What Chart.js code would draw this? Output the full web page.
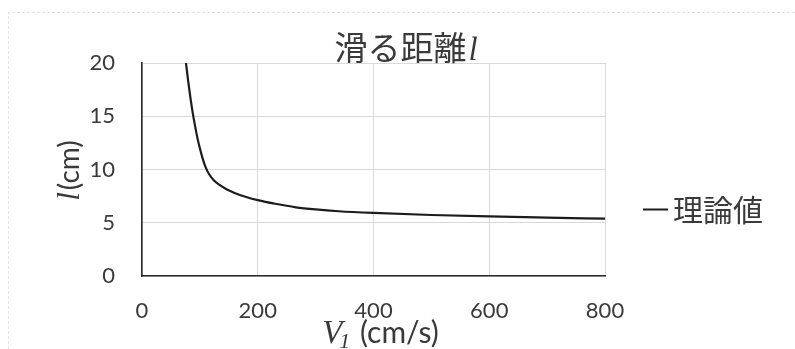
<!DOCTYPE html>
<html><head><meta charset="utf-8">
<script src="https://cdn.jsdelivr.net/npm/chart.js@4.4.0/dist/chart.umd.min.js"></script>
<style>html,body{margin:0;padding:0;background:#fff;} canvas{display:block;}</style>
</head><body>
<canvas id="c" width="795" height="349"></canvas>
<script>
// ---- data ----
const chartTitle = "滑る距離";
const chartTitleVar = "l";
const seriesLabel = "理論値";
const xTitleVar = "V";
const xTitleSub = "1";
const xTitleUnit = " (cm/s)";
const yTitleVar = "l";
const yTitleUnit = "(cm)";
const xTickValues = [0, 200, 400, 600, 800];
const yTickValues = [0, 5, 10, 15, 20];
const velocity = [76, 80, 84, 88, 92, 96, 100, 105, 110, 116, 124, 134, 146, 160, 180, 200, 230, 266, 300, 340, 400, 500, 600, 700, 800];
const distance = [20, 18.2, 16.6, 15.2, 14.0, 12.9, 12.0, 11.0, 10.2, 9.55, 9.0, 8.55, 8.15, 7.8, 7.42, 7.12, 6.78, 6.45, 6.25, 6.08, 5.92, 5.73, 5.59, 5.48, 5.38];

const points = velocity.map((v, i) => ({ x: v, y: distance[i] }));

const TEXT = '#3a3a3a';
const LATIN = 'Lato, "Noto Sans", sans-serif';
const CJK = '"Noto Sans CJK JP", "Noto Sans", sans-serif';
const SERIF = '"Liberation Serif", "DejaVu Serif", serif';

const framePlugin = {
  id: 'framePlugin',
  beforeDraw(chart) {
    const ctx = chart.ctx;
    ctx.save();
    ctx.strokeStyle = '#e4e4e4';
    ctx.lineWidth = 1;
    ctx.setLineDash([3, 2]);
    ctx.beginPath();
    ctx.moveTo(8.5, chart.height);
    ctx.lineTo(8.5, 12.5);
    ctx.lineTo(chart.width, 12.5);
    ctx.stroke();
    ctx.restore();
  }
};

const textPlugin = {
  id: 'textPlugin',
  afterDraw(chart) {
    const ctx = chart.ctx;
    const ca = chart.chartArea;
    ctx.save();
    ctx.fillStyle = TEXT;
    ctx.textAlign = 'left';
    ctx.textBaseline = 'alphabetic';

    // chart title: 滑る距離 + italic l
    const tFont = '33px ' + CJK;
    const tVarFont = 'italic 33px ' + SERIF;
    ctx.font = tFont; const tw1 = ctx.measureText(chartTitle).width;
    ctx.font = tVarFont; const tw2 = ctx.measureText(chartTitleVar).width;
    let x = 406 - (tw1 + tw2 + 2) / 2;
    ctx.font = tFont; ctx.fillText(chartTitle, x, 60);
    ctx.font = tVarFont; ctx.fillText(chartTitleVar, x + tw1 + 2, 60);

    // x-axis title: V1 (cm/s)
    const vFont = 'italic 33px ' + SERIF;
    const sFont = 'italic 22px ' + SERIF;
    const uFont = '30px ' + LATIN;
    ctx.font = vFont; const w1 = ctx.measureText(xTitleVar).width;
    ctx.font = sFont; const w2 = ctx.measureText(xTitleSub).width;
    ctx.font = uFont; const w3 = ctx.measureText(xTitleUnit).width;
    const xc = 381;
    x = xc - (w1 + w2 + w3) / 2;
    const xb = 343;
    ctx.font = vFont; ctx.fillText(xTitleVar, x, xb);
    ctx.font = sFont; ctx.fillText(xTitleSub, x + w1 - 3, xb + 5);
    ctx.font = uFont; ctx.fillText(xTitleUnit, x + w1 + w2 - 1, xb);

    // y-axis title: l(cm), rotated
    ctx.save();
    ctx.translate(69, (ca.top + ca.bottom) / 2 + 1);
    ctx.rotate(-Math.PI / 2);
    const lFont = 'italic 31px ' + SERIF;
    const cFont = '28px ' + LATIN;
    ctx.font = lFont; const a1 = ctx.measureText(yTitleVar).width;
    ctx.font = cFont; const a2 = ctx.measureText(yTitleUnit).width;
    let yx = -(a1 + a2 + 2) / 2;
    ctx.font = lFont; ctx.fillText(yTitleVar, yx, 10);
    ctx.font = cFont; ctx.fillText(yTitleUnit, yx + a1 + 2, 10);
    ctx.restore();

    // legend: line marker + series label
    const ds = chart.data.datasets[0];
    ctx.strokeStyle = ds.borderColor;
    ctx.lineWidth = 2;
    ctx.beginPath();
    ctx.moveTo(643, 209.5);
    ctx.lineTo(668, 209.5);
    ctx.stroke();
    ctx.font = '30px ' + CJK;
    ctx.fillStyle = TEXT;
    ctx.fillText(ds.label, 673, 221);
    ctx.restore();
  }
};

new Chart(document.getElementById('c'), {
  type: 'line',
  data: {
    datasets: [{
      label: seriesLabel,
      data: points,
      borderColor: '#1c1c1c',
      backgroundColor: '#1c1c1c',
      borderWidth: 2.2,
      pointRadius: 0,
      fill: false,
      cubicInterpolationMode: 'monotone'
    }]
  },
  options: {
    responsive: false,
    animation: false,
    events: [],
    layout: { padding: { left: 0, top: 63, right: 190, bottom: 0 } },
    plugins: { legend: { display: false }, title: { display: false }, tooltip: { enabled: false } },
    scales: {
      x: {
        type: 'linear',
        min: xTickValues[0],
        max: xTickValues[xTickValues.length - 1],
        afterFit(scale) { scale.height = 73; },
        afterBuildTicks(scale) { scale.ticks = xTickValues.map(v => ({ value: v })); },
        grid: { color: '#d9d9d9', lineWidth: 1, drawTicks: false },
        border: { display: true, color: '#2a2a2a', width: 1.6 },
        ticks: { color: TEXT, font: { family: LATIN, size: 22 }, padding: 22, maxRotation: 0 }
      },
      y: {
        type: 'linear',
        min: yTickValues[0],
        max: yTickValues[yTickValues.length - 1],
        afterFit(scale) { scale.width = 142; },
        afterBuildTicks(scale) { scale.ticks = yTickValues.map(v => ({ value: v })); },
        grid: { color: '#d9d9d9', lineWidth: 1, drawTicks: false },
        border: { display: true, color: '#2a2a2a', width: 1.6 },
        ticks: { color: TEXT, font: { family: LATIN, size: 22 }, padding: 27 }
      }
    }
  },
  plugins: [framePlugin, textPlugin]
});
</script>
</body></html>
